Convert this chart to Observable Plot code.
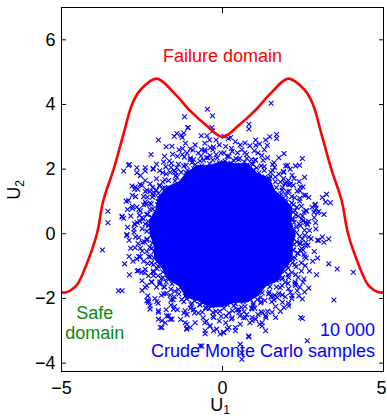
<!DOCTYPE html>
<html><head><meta charset="utf-8">
<script src="https://cdn.jsdelivr.net/npm/d3@7"></script>
<script src="https://cdn.jsdelivr.net/npm/@observablehq/plot@0.6"></script>
<style>body{margin:0;background:#fff}#chart{width:387px;height:418px}</style>
</head><body><div id="chart"></div>
<script>
// Axis ticks
const xTicks = [-5, 0, 5];
const yTicks = [-4, -2, 0, 2, 4, 6];

// Failure domain boundary (limit-state curve)
const failU1 = [-5, -4.85, -4.7, -4.5, -4.26, -3.9, -3.7, -3.38, -3.07, -2.81, -2.55, -2.04, -1.5, -1.0, -0.5, 0, 0.5, 1.0, 1.5, 2.04, 2.55, 2.81, 3.07, 3.38, 3.7, 3.9, 4.26, 4.5, 4.7, 4.85, 5];
const failU2 = [-1.82, -1.81, -1.74, -1.55, -1.04, 0, 1.03, 2.0, 3.1, 4.0, 4.45, 4.8, 4.35, 3.8, 3.35, 3.0, 3.35, 3.8, 4.35, 4.8, 4.45, 4.0, 3.1, 2.0, 1.03, 0, -1.04, -1.55, -1.74, -1.81, -1.82];

// Saturated core of the sample cloud, outline in (U1, U2)
const coreU1 = [2.25, 2.12, 2.16, 1.91, 1.61, 1.45, 1.08, 0.79, 0.38, 0.00, -0.37, -0.77, -1.10, -1.35, -1.72, -1.99, -2.07, -2.27, -2.25, -2.12, -2.11, -1.86, -1.69, -1.35, -1.13, -0.75, -0.40, 0.00, 0.37, 0.77, 1.10, 1.35, 1.72, 1.91, 2.16, 2.17, 2.25];
const coreU2 = [0.00, 0.37, 0.79, 1.10, 1.35, 1.72, 1.86, 2.16, 2.17, 2.25, 2.12, 2.11, 1.91, 1.61, 1.45, 1.15, 0.75, 0.40, 0.00, -0.37, -0.77, -1.08, -1.41, -1.61, -1.95, -2.07, -2.27, -2.25, -2.12, -2.11, -1.91, -1.61, -1.45, -1.10, -0.79, -0.38, 0.00];

// Samples just outside the saturated core, read as [angle (deg), radius]
const innerFringe = [
[1,2.3],[2.5,2.55],[4,2.2],[6,2.65],[7.5,2.4],[9,2.25],
[10.5,2.5],[12,2.2],[14.5,2.35],[15.5,2.7],[17,2.3],[19.5,2.45],
[21.5,2.2],[23,2.6],[24,2.35],[26.5,2.5],[28,2.2],[29,2.75],
[31,2.3],[32.5,2.45],[34,2.2],[36,2.6],[37.5,2.35],[39,2.5],
[40.5,2.2],[42,2.55],[44.5,2.3],[45.5,2.7],[47,2.4],[49.5,2.25],
[51.5,2.5],[53,2.2],[54,2.65],[56.5,2.35],[58,2.45],[59,2.2],
[61,2.6],[62.5,2.3],[64,2.2],[66,2.5],[67.5,2.35],[69,2.75],
[70.5,2.25],[72,2.45],[74.5,2.6],[75.5,2.2],[77,2.4],[79.5,2.55],
[81.5,2.3],[83,2.2],[84,2.65],[86.5,2.4],[88,2.25],[89,2.5],
[91,2.5],[92.5,2.2],[94,2.35],[96,2.7],[97.5,2.3],[99,2.45],
[100.5,2.2],[102,2.6],[104.5,2.35],[105.5,2.5],[107,2.2],[109.5,2.75],
[111.5,2.3],[113,2.55],[114,2.2],[116.5,2.65],[118,2.4],[119,2.25],
[121,2.2],[122.5,2.55],[124,2.3],[126,2.7],[127.5,2.4],[129,2.25],
[130.5,2.5],[132,2.2],[134.5,2.65],[135.5,2.35],[137,2.45],[139.5,2.2],
[141.5,2.3],[143,2.45],[144,2.2],[146.5,2.6],[148,2.35],[149,2.5],
[151,2.25],[152.5,2.45],[154,2.6],[156,2.2],[157.5,2.4],[159,2.55],
[160.5,2.3],[162,2.2],[164.5,2.65],[165.5,2.4],[167,2.25],[169.5,2.5],
[171.5,2.6],[173,2.3],[174,2.2],[176.5,2.5],[178,2.35],[179,2.75],
[181,2.2],[182.5,2.6],[184,2.35],[186,2.5],[187.5,2.2],[189,2.75],
[190.5,2.3],[192,2.55],[194.5,2.2],[195.5,2.65],[197,2.4],[199.5,2.25],
[201.5,2.5],[203,2.2],[204,2.35],[206.5,2.7],[208,2.3],[209,2.45],
[211,2.5],[212.5,2.2],[214,2.65],[216,2.35],[217.5,2.45],[219,2.2],
[220.5,2.3],[222,2.45],[224.5,2.2],[225.5,2.6],[227,2.35],[229.5,2.5],
[231.5,2.2],[233,2.55],[234,2.3],[236.5,2.7],[238,2.4],[239,2.25],
[241,2.3],[242.5,2.2],[244,2.65],[246,2.4],[247.5,2.25],[249,2.5],
[250.5,2.6],[252,2.3],[254.5,2.2],[255.5,2.5],[257,2.35],[259.5,2.75],
[261.5,2.25],[263,2.45],[264,2.6],[266.5,2.2],[268,2.4],[269,2.55],
[271,2.3],[272.5,2.55],[274,2.2],[276,2.65],[277.5,2.4],[279,2.25],
[280.5,2.2],[282,2.6],[284.5,2.35],[285.5,2.5],[287,2.2],[289.5,2.75],
[291.5,2.5],[293,2.2],[294,2.35],[296.5,2.7],[298,2.3],[299,2.45],
[301,2.3],[302.5,2.45],[304,2.2],[306,2.6],[307.5,2.35],[309,2.5],
[310.5,2.5],[312,2.2],[314.5,2.65],[315.5,2.35],[317,2.45],[319.5,2.2],
[321.5,2.2],[323,2.55],[324,2.3],[326.5,2.7],[328,2.4],[329,2.25],
[331,2.6],[332.5,2.3],[334,2.2],[336,2.5],[337.5,2.35],[339,2.75],
[340.5,2.3],[342,2.2],[344.5,2.65],[345.5,2.4],[347,2.25],[349.5,2.5],
[351.5,2.25],[353,2.45],[354,2.6],[356.5,2.2],[358,2.4],[359,2.55]
];

// Samples in the ragged edge of the cloud [U1, U2]
const fringeSamples = [
[2.3,0.2],[2.5,0.4],[2.7,0.1],[2.6,0.7],[2.2,0.9],[2.4,1.1],[2.0,1.3],[2.2,1.5],[1.8,1.6],[1.9,1.9],[1.5,1.9],[1.6,2.2],[1.2,2.1],[0.9,2.3],[1.1,2.5],[0.5,2.3],[0.6,2.6],[0.2,2.4],[0.1,2.7],[2.85,0.5],[2.5,1.45],[2.1,2.0],[1.3,2.6],[0.4,2.85],[2.35,0.55],[2.15,1.15],[1.75,1.85],[2.45,0.85],[2.05,1.65],[1.4,2.35],[0.75,2.45],[0.3,2.55],[2.62,0.32],[2.78,0.82],[2.32,1.32],[1.95,1.55],[1.62,2.05],[1.02,2.28],[0.55,2.75],[0.18,2.95],[2.9,0.15],[2.68,1.12],[2.02,2.12],[1.22,2.42],[0.85,2.72],[2.42,0.25],[2.25,0.72],[1.85,1.35],[1.48,1.78],[0.95,2.15],[0.42,2.32],[2.55,1.75],[1.75,2.35],[2.95,0.65],[2.38,1.62],[1.15,2.78],[0.68,2.22],[1.98,0.98],[2.2,0.45],
[-2.3,0.25],[-2.5,0.5],[-2.75,0.15],[-2.6,0.75],[-2.25,0.95],[-2.45,1.15],[-2.05,1.35],[-2.25,1.55],[-1.85,1.6],[-1.95,1.95],[-1.5,1.95],[-1.65,2.25],[-1.2,2.1],[-0.9,2.3],[-1.1,2.5],[-0.5,2.35],[-0.65,2.6],[-0.2,2.45],[-0.1,2.75],[-2.85,0.55],[-2.5,1.5],[-2.15,2.0],[-1.35,2.6],[-0.4,2.9],[-2.35,0.6],[-2.15,1.2],[-1.75,1.85],[-2.45,0.9],[-2.05,1.7],[-1.4,2.4],[-0.75,2.5],[-0.3,2.6],[-2.65,0.35],[-2.8,0.85],[-2.35,1.35],[-1.95,1.5],[-1.6,2.05],[-1.0,2.3],[-0.55,2.8],[-0.2,2.9],[-2.95,0.2],[-2.7,1.15],[-2.05,2.15],[-1.25,2.45],[-0.85,2.75],[-2.4,0.3],[-2.25,0.75],[-1.85,1.4],[-1.45,1.8],[-0.95,2.2],[-0.45,2.35],[-2.55,1.8],[-1.8,2.4],[-2.95,0.75],[-2.4,1.65],[-1.15,2.8],[-0.7,2.25],[-2.0,1.0],[-2.2,0.5],
[-2.35,-0.2],[-2.55,-0.45],[-2.7,-0.1],[-2.6,-0.7],[-2.2,-0.9],[-2.4,-1.1],[-2.0,-1.3],[-2.2,-1.5],[-1.8,-1.65],[-1.9,-1.9],[-1.5,-1.95],[-1.6,-2.2],[-1.2,-2.1],[-0.9,-2.35],[-1.1,-2.5],[-0.5,-2.3],[-0.6,-2.6],[-0.2,-2.4],[-0.1,-2.7],[-2.85,-0.45],[-2.5,-1.45],[-2.1,-2.0],[-1.3,-2.65],[-0.4,-2.85],[-2.35,-0.55],[-2.15,-1.15],[-1.75,-1.85],[-2.45,-0.85],[-2.05,-1.65],[-1.4,-2.35],[-0.75,-2.45],[-0.3,-2.55],[-2.62,-0.3],[-2.78,-0.85],[-2.3,-1.3],[-1.95,-1.55],[-1.6,-2.05],[-1.0,-2.3],[-0.55,-2.75],[-0.18,-2.95],[-2.9,-0.2],[-2.65,-1.15],[-2.0,-2.15],[-1.2,-2.45],[-0.85,-2.75],[-2.42,-0.25],[-2.25,-0.72],[-1.85,-1.35],[-1.48,-1.78],[-0.95,-2.15],[-0.42,-2.32],[-2.5,-1.75],[-1.75,-2.35],[-2.9,-0.7],[-2.35,-1.6],[-1.1,-2.8],[-0.7,-2.2],[-2.0,-1.0],[-2.2,-0.45],
[2.3,-0.25],[2.5,-0.5],[2.75,-0.15],[2.6,-0.75],[2.25,-0.95],[2.45,-1.15],[2.05,-1.35],[2.25,-1.55],[1.85,-1.6],[1.95,-1.95],[1.5,-1.95],[1.65,-2.25],[1.2,-2.1],[0.9,-2.3],[1.1,-2.5],[0.5,-2.35],[0.65,-2.6],[0.2,-2.45],[0.1,-2.75],[2.85,-0.55],[2.5,-1.5],[2.15,-2.0],[1.35,-2.6],[0.4,-2.9],[2.35,-0.6],[2.15,-1.2],[1.75,-1.85],[2.45,-0.9],[2.05,-1.7],[1.4,-2.4],[0.75,-2.5],[0.3,-2.6],[2.65,-0.35],[2.8,-0.85],[2.35,-1.35],[1.95,-1.5],[1.6,-2.05],[1.0,-2.3],[0.55,-2.8],[0.2,-2.9],[2.95,-0.2],[2.7,-1.15],[2.05,-2.15],[1.25,-2.45],[0.85,-2.75],[2.4,-0.3],[2.25,-0.75],[1.85,-1.4],[1.45,-1.8],[0.95,-2.2],[0.45,-2.35],[2.55,-1.8],[1.8,-2.4],[2.95,-0.75],[2.4,-1.65],[1.15,-2.8],[0.7,-2.25],[2.0,-1.0],[2.2,-0.5]
];

// Isolated samples [U1, U2]
const outlierSamples = [
[-0.47,3.85],[-0.31,3.65],[-1.18,3.62],[-1.07,3.29],[-0.33,3.29],[-0.31,3.18],[-0.66,3.03],[-0.48,3.03],[-1.5,3.02],[-1.42,3.1],[-1.28,3.05],[-1.2,3.12],[-1.25,2.98],[-1.99,2.9],[-1.75,2.69],[-1.24,2.64],[-1.0,2.62],[-0.38,2.66],[-2.22,2.45],[-1.55,2.46],[-2.89,2.14],[-3.07,1.94],[-2.66,2.04],[-2.66,1.89],[-2.4,2.04],[-2.4,1.94],[-2.16,2.02],[-1.83,2.22],[-1.76,2.07],[-1.42,2.04],[-2.56,1.52],[-2.73,1.38],[-2.63,1.38],[-2.8,1.19],[-2.99,1.01],[-2.92,1.03],[-2.4,1.31],[-2.25,1.31],[-2.8,0.78],[-2.66,0.83],[-2.4,0.98],[-3.56,0.7],[-3.56,0.34],[-3.12,0.52],[-3.07,0.48],[-2.73,0.31],[-2.58,0.57],[-2.3,0.38],[-2.92,2.12],[-2.81,1.48],[-2.71,1.45],[-1.57,2.71],[-1.08,3.28],[-2.97,-0.02],[-2.71,0.29],[-3.12,0.54],
[1.51,4.04],[0.82,3.39],[0.82,3.24],[1.47,3.0],[1.68,3.07],[1.68,2.95],[1.03,2.9],[1.03,2.74],[1.34,2.9],[1.39,2.74],[0.7,2.81],[1.91,2.48],[2.48,2.33],[1.96,2.1],[2.27,2.1],[2.39,2.12],[2.16,1.81],[2.22,1.71],[2.42,1.45],[2.06,1.52],[2.53,1.19],[2.58,1.19],[3.23,1.22],[3.1,1.12],[3.2,0.98],[3.35,0.96],[2.87,0.88],[2.91,0.78],[2.84,0.67],[2.99,0.69],[3.15,0.6],[2.53,0.67],[2.58,0.36],[2.68,0.38],[2.89,0.34],[2.48,0.55],[2.88,0.91],[0.05,3.02],[0.25,2.98],[-0.55,2.6],
[-3.73,-0.5],[-2.97,-0.05],[-3.04,-0.93],[-2.89,-1.27],[-3.23,-1.76],[-3.12,-1.76],[-2.66,-0.78],[-2.61,-1.14],[-2.5,-1.19],[-2.4,-1.66],[-2.32,-1.92],[-2.3,-2.12],[-2.04,-2.09],[-1.99,-2.38],[-1.99,-2.64],[-1.88,-2.9],[-1.73,-2.54],[-1.62,-2.64],[-1.52,-2.33],[-2.25,-2.33],[-2.35,-2.07],[-1.16,-2.75],[-1.11,-2.92],[-1.0,-2.9],[-0.54,-3.0],[-0.38,-2.85],[-0.28,-3.0],[-0.64,-3.47],[-1.57,-2.64],[-1.93,-2.9],[-1.88,-2.69],[-1.11,-2.95],[-1.67,-2.54],[-1.78,-2.75],[-2.3,-2.07],[-2.25,-2.23],[-1.99,-2.43],[-0.69,-3.47],[-0.54,-3.09],[-0.07,-3.1],
[2.68,-0.1],[3.1,-0.1],[3.3,-0.16],[3.15,-0.26],[2.99,-0.21],[2.48,-0.16],[2.58,-0.36],[2.42,-0.52],[2.53,-0.64],[3.3,-0.93],[3.56,-1.09],[4.06,-1.19],[2.92,-1.27],[2.53,-1.4],[2.68,-1.68],[2.27,-1.6],[2.32,-1.76],[2.11,-1.81],[2.16,-1.92],[2.37,-1.92],[2.48,-2.02],[3.46,-2.05],[1.7,-1.97],[1.86,-2.12],[2.06,-2.23],[1.91,-2.28],[1.54,-2.43],[1.65,-2.59],[1.34,-2.54],[1.23,-2.75],[1.23,-2.85],[2.48,-2.62],[1.34,-3.0],[1.03,-2.64],[0.92,-2.69],[0.71,-2.59],[0.51,-2.43],[0.4,-3.0],[0.15,-2.95],[0.82,-3.19],[2.63,-3.31],[0.04,-3.05],[2.43,-2.59],[0.81,-3.16],[0.55,-3.42],[0.6,-3.68],[0.6,-3.88],[0.03,-3.05]
];

// Annotation texts
const failureLabel = ["Failure domain"];
const safeLabel = ["Safe\ndomain"];
const samplesLabel = ["10 000\nCrude Monte Carlo samples"];

const BLUE = "#0000ff", RED = "#ff0000", GREEN = "#0a8a0a";
const FONT = "'Liberation Sans', Arial, Helvetica, sans-serif";

const failure = failU1.map((u, i) => ({u1: u, u2: failU2[i]}));
const core = coreU1.map((u, i) => ({u1: u, u2: coreU2[i]}));
const samples = innerFringe.map(([deg, r]) => [r * Math.cos(deg * Math.PI / 180), r * Math.sin(deg * Math.PI / 180)])
  .concat(fringeSamples, outlierSamples)
  .map(([a, b]) => ({u1: a, u2: b}));

const chart = Plot.plot({
  width: 387, height: 418,
  marginLeft: 61, marginRight: 4, marginTop: 7, marginBottom: 47,
  x: {domain: [-5, 5]},
  y: {domain: [-4.26, 7]},
  style: {fontFamily: FONT, fontSize: "18px", background: "white", color: "black"},
  marks: [
    Plot.line(core, {x: "u1", y: "u2", fill: BLUE, stroke: BLUE, strokeWidth: 1}),
    Plot.dot(samples, {x: "u1", y: "u2", symbol: "times", r: 2.3, stroke: BLUE, strokeWidth: 1.1}),
    Plot.line(failure, {x: "u1", y: "u2", stroke: RED, strokeWidth: 2.6, curve: "catmull-rom", clip: true}),
    Plot.text(failureLabel, {x: 0, y: 5.31, text: d => d, fill: RED, fontSize: 18, textAnchor: "middle", lineAnchor: "bottom"}),
    Plot.text(safeLabel, {x: -3.97, y: -3.26, text: d => d, fill: GREEN, fontSize: 18, textAnchor: "middle", lineAnchor: "bottom", lineHeight: 1.12}),
    Plot.text(samplesLabel, {x: 4.74, y: -3.8, text: d => d, fill: BLUE, fontSize: 18, textAnchor: "end", lineAnchor: "bottom", lineHeight: 1.12}),
    Plot.frame({stroke: "black", strokeWidth: 1}),
    Plot.axisX(xTicks, {anchor: "bottom", tickSize: -5, tickFormat: () => "", label: null}),
    Plot.axisX(xTicks, {anchor: "top", tickSize: -5, tickFormat: () => "", label: null}),
    Plot.axisY(yTicks, {anchor: "left", tickSize: -5, tickFormat: () => "", label: null}),
    Plot.axisY(yTicks, {anchor: "right", tickSize: -5, tickFormat: () => "", label: null}),
    Plot.axisX(xTicks.slice(0, 2), {anchor: "bottom", tickSize: 0, tickPadding: 10, fontSize: 18, label: null}),
    Plot.axisX(xTicks.slice(2), {anchor: "bottom", tickSize: 0, tickPadding: 10, fontSize: 18, label: null, dx: -2}),
    Plot.axisY(yTicks, {anchor: "left", tickSize: 0, tickPadding: 6, fontSize: 18, label: null})
  ]
});
document.getElementById("chart").appendChild(chart);

// Axis titles with subscripts
const svg = d3.select(chart);
const xt = svg.append("text").attr("x", 220).attr("y", 411).attr("text-anchor", "middle")
  .attr("font-family", FONT).attr("font-size", 18).attr("fill", "black");
xt.append("tspan").text("U");
xt.append("tspan").attr("dy", 3).attr("font-size", 12).text("1");
const yt = svg.append("text").attr("transform", "translate(20,190) rotate(-90)").attr("text-anchor", "middle")
  .attr("font-family", FONT).attr("font-size", 18).attr("fill", "black");
yt.append("tspan").text("U");
yt.append("tspan").attr("dy", 4).attr("font-size", 12).text("2");
</script></body></html>
